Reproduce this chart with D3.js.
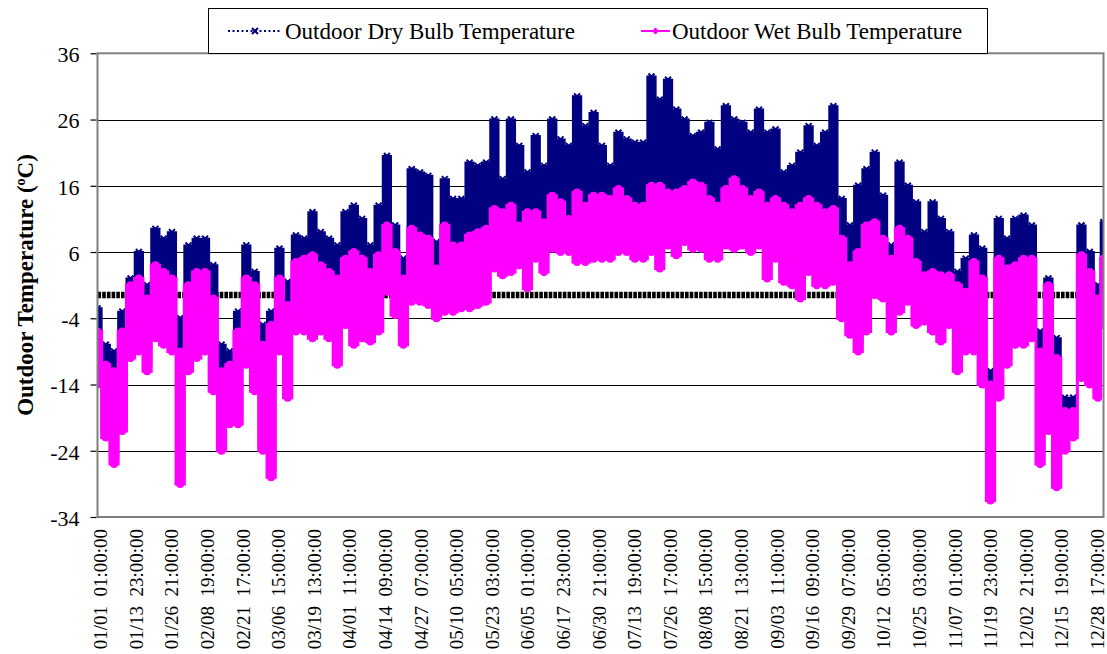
<!DOCTYPE html>
<meta charset="utf-8">
<style>
  body { margin: 0; background: #fff; }
  svg text { font-family: "Liberation Serif", "Times New Roman", serif; fill: #000; }
  .xaxis text { white-space: pre; }
</style>
<svg width="1107" height="654"></svg>
<script src="https://cdn.jsdelivr.net/npm/d3@7/dist/d3.min.js"></script>
<script>

// Envelopes, one reading every 3 days (72 h)
var dryHi = [-2.5,-8,-9,-3,2,6,1,9.5,8,9,
             -4,7,8,8,4,-8,-9,-3,7,3,
             -5,-3,6.5,1.5,8.5,8,12,9,8,7,
             12,13,11,7,13,20.5,10,5,18.5,18,
             17.5,7.5,17,14,14,19.5,19,19.5,26,17,
             26,22,18,23.5,19,26,23,22,29.5,25,
             27,22,19,24,23,22.5,22.5,32.5,29,32,
             27.5,26,23.5,24,25.5,21.5,28,26,25.5,24,
             27.5,24,24.5,18,19,21,25,22,24,28,
             14,10,16,18.5,21,14.5,7,19.5,16,13.5,
             9,13.5,11,9,3,5,8.5,6.5,-12,11,
             8,11,11.5,10,-6,2,-7,-16,-16,10,
             6,1,10.5];
var dryLo = [-13,-21,-25,-20,-9,-8,-11,-6,-7,-8,
             -28,-11,-9,-8,-14,-23,-19,-19,-10,-14,
             -23,-27,-8,-15,-5,-5,-6,-5,-6,-10,
             -4,-7,-6,-6.5,-5,1,-2.5,-7,0,0,
             -1,-3,-2,-2,-1.5,-1.5,-1,-0.5,5,4,
             4.5,5.5,2,7,5,9,8.5,8,7,7,
             7.5,7.5,7.5,8.5,8.5,7.5,7.5,8.5,6,9.5,
             8,10,9,9,7.5,7.5,9.5,9,9.5,8.5,
             9.5,4,7,3.5,3,1,5,3,3,3.5,
             -3,-5.5,-8,-5,0.5,0,-5,-2,-0.5,-4,
             -3.5,-5,-6.5,-4,-11,-8,-8,-13,-30.5,-15,
             -10,-7,-7,-6,-25,-20,-28.5,-23,-21,-12,
             -13,-15,-4];
var wetHi = [-6,-11,-12,-6,1,2,-1,4,3,2,
             -9,1,3,3,-1,-12,-11,-6,2,1,
             -8,-5,2,-2,4.5,5,5.5,4,3,2,
             5,6,5,3,5.5,10,6,2,9.5,8.5,
             8,3.5,10,7,7,8.5,9,9.5,12.5,12,
             13,10,12,12,10.5,14.5,13.5,11,15,13,
             14.5,14.5,14,15.5,14,13,13,16,16,15,
             15,15.5,16.5,16,14,13,15.5,17,15.5,14,
             15,13,14,13,12,13,14,13,12,12.5,
             8,4,6,10,10.5,8,5,9.5,8,4.5,
             2.5,3,2.5,2.5,1,0,4.5,2,-14,5,
             3.5,4,5,5,-9,1,-10,-18,-18,5.5,
             3,-1,5];
var wetLo = [-14,-22,-26,-21,-10,-9,-12,-7,-8,-9,
             -29,-12,-10,-9,-15,-24,-20,-20,-11,-15,
             -24,-28,-9,-16,-6,-6,-7,-6,-7,-11,
             -5,-8,-7,-7.5,-6,0,-3.5,-8,-1.5,-1.5,
             -2,-4,-3,-3,-2.5,-2.5,-2,-1.5,3.5,2.5,
             3,4,0.5,5,3,6.5,6,6,4.5,4.5,
             5,5,5,6,6,5,5,6,3.5,7,
             5.5,7.5,6.5,6.5,5,5,7,6.5,7,6,
             7,2,5,1.5,1,-1,3,1,1,1.5,
             -4,-6.5,-9,-6,-0.5,-1,-6,-3,-1.5,-5,
             -4.5,-6,-7.5,-5,-12,-9,-9,-14,-31.5,-16,
             -11,-8,-8,-7,-26,-21,-29.5,-24,-22,-13,
             -14,-16,-5];

// freezing reference line drawn behind the data
var refTemp = -0.5;

var yTicks = [-34, -24, -14, -4, 6, 16, 26, 36];

// category labels, one every 310 hourly records
var tickLabels = ["01/01  01:00:00","01/13  23:00:00","01/26  21:00:00","02/08  19:00:00",
  "02/21  17:00:00","03/06  15:00:00","03/19  13:00:00","04/01  11:00:00","04/14  09:00:00",
  "04/27  07:00:00","05/10  05:00:00","05/23  03:00:00","06/05  01:00:00","06/17  23:00:00",
  "06/30  21:00:00","07/13  19:00:00","07/26  17:00:00","08/08  15:00:00","08/21  13:00:00",
  "09/03  11:00:00","09/16  09:00:00","09/29  07:00:00","10/12  05:00:00","10/25  03:00:00",
  "11/07  01:00:00","11/19  23:00:00","12/02  21:00:00","12/15  19:00:00","12/28  17:00:00"];

var seriesNames = ["Outdoor Dry Bulb Temperature", "Outdoor Wet Bulb Temperature"];
var navy = "#000080", pink = "#ff00ff";

var svg = d3.select("svg"),
    plot = {left: 97.5, right: 1103.5, top: 53.3, bottom: 517};

var x = d3.scaleLinear().domain([0, 8760]).range([plot.left, plot.right]);
var y = d3.scaleLinear().domain([-34, 36]).range([plot.bottom, plot.top]);

var hours = dryHi.map(function(d, i) { return Math.min(i * 72, 8759); });
var rows = hours.map(function(h, i) {
  return {h: h, dHi: dryHi[i], dLo: dryLo[i], wHi: wetHi[i], wLo: wetLo[i]};
});

svg.append("defs").append("clipPath").attr("id", "clip")
  .append("rect")
    .attr("x", plot.left).attr("y", plot.top)
    .attr("width", plot.right - plot.left).attr("height", plot.bottom - plot.top);

//Gridlines
svg.append("g").selectAll("line")
  .data(yTicks.slice(1, -1))
  .enter().append("line")
    .attr("x1", plot.left).attr("x2", plot.right)
    .attr("y1", function(d) { return Math.round(y(d)) + 0.5; })
    .attr("y2", function(d) { return Math.round(y(d)) + 0.5; })
    .attr("stroke", "#000").attr("stroke-width", 1.2);

var g = svg.append("g").attr("clip-path", "url(#clip)");

//Freezing line (dotted band)
g.append("line")
  .attr("x1", plot.left).attr("x2", plot.right)
  .attr("y1", y(refTemp)).attr("y2", y(refTemp))
  .attr("stroke", "#000").attr("stroke-width", 6.5)
  .attr("stroke-dasharray", "3.6,1.1");

//Dry bulb
g.append("path")
  .datum(rows)
  .attr("fill", navy)
  .attr("stroke", navy).attr("stroke-width", 2)
  .attr("d", d3.area()
    .curve(d3.curveStep)
    .x(function(d) { return x(d.h); })
    .y0(function(d) { return y(d.dLo); })
    .y1(function(d) { return y(d.dHi); }));

g.append("g").selectAll("path")
  .data(rows)
  .enter().append("path")
    .attr("transform", function(d) { return "translate(" + x(d.h) + "," + y(d.dHi) + ")"; })
    .attr("d", "M-3,-3L3,3M-3,3L3,-3")
    .attr("stroke", navy).attr("stroke-width", 2).attr("fill", "none");

//Wet bulb
g.append("path")
  .datum(rows)
  .attr("fill", pink)
  .attr("stroke", pink).attr("stroke-width", 3)
  .attr("d", d3.area()
    .curve(d3.curveStep)
    .x(function(d) { return x(d.h); })
    .y0(function(d) { return y(d.wLo); })
    .y1(function(d) { return y(d.wHi); }));

var dots = [];
rows.forEach(function(d) { dots.push([d.h, d.wHi]); dots.push([d.h, d.wLo]); });
g.append("g").selectAll("circle")
  .data(dots)
  .enter().append("circle")
    .attr("cx", function(d) { return x(d[0]); })
    .attr("cy", function(d) { return y(d[1]); })
    .attr("r", 4)
    .attr("fill", pink);

//Plot border
svg.append("rect")
  .attr("x", plot.left).attr("y", plot.top)
  .attr("width", plot.right - plot.left).attr("height", plot.bottom - plot.top)
  .attr("fill", "none").attr("stroke", "#808080").attr("stroke-width", 2);

//Axes
var yAxis = svg.append("g")
  .attr("transform", "translate(" + (plot.left - 1) + ",0)")
  .call(d3.axisLeft(y).tickValues(yTicks).tickFormat(String).tickSize(6).tickPadding(11));
yAxis.select(".domain").remove();
yAxis.selectAll("line").attr("stroke", "#000").attr("stroke-width", 1.2);
yAxis.selectAll("text")
  .style("font-size", "22px")
  .attr("dy", "0.38em");

var xAxis = svg.append("g")
  .attr("class", "xaxis")
  .attr("transform", "translate(0," + plot.bottom + ")")
  .call(d3.axisBottom(x)
    .tickValues(tickLabels.map(function(d, i) { return i * 310; }))
    .tickFormat(function(d, i) { return tickLabels[i]; })
    .tickSize(0));
xAxis.select(".domain").remove();
xAxis.selectAll("text")
  .style("font-size", "19px")
  .attr("text-anchor", "end")
  .attr("transform", "rotate(-90)")
  .attr("x", -12)
  .attr("y", 2.5)
  .attr("dy", "0.35em");

//Y-axis title
var title = svg.append("text")
  .attr("transform", "translate(33,285) rotate(-90)")
  .attr("text-anchor", "middle")
  .style("font-size", "23px")
  .style("font-weight", "bold");
title.append("tspan").text("Outdoor Temperature (");
title.append("tspan").text("o").style("font-size", "14px").attr("baseline-shift", "60%");
title.append("tspan").text("C)");

//Legend
var legend = svg.append("g");
legend.append("rect")
  .attr("x", 208.5).attr("y", 8.5).attr("width", 779).attr("height", 45)
  .attr("fill", "#fff").attr("stroke", "#000").attr("stroke-width", 1);

legend.append("line")
  .attr("x1", 228).attr("x2", 282).attr("y1", 31).attr("y2", 31)
  .attr("stroke", navy).attr("stroke-width", 2).attr("stroke-dasharray", "2,2.5");
legend.append("path")
  .attr("transform", "translate(255,31)")
  .attr("d", "M-3,-3L3,3M-3,3L3,-3")
  .attr("stroke", navy).attr("stroke-width", 2);
legend.append("text")
  .attr("x", 285).attr("y", 39)
  .style("font-size", "23px")
  .text(seriesNames[0]);

legend.append("line")
  .attr("x1", 641).attr("x2", 670).attr("y1", 31).attr("y2", 31)
  .attr("stroke", pink).attr("stroke-width", 2);
legend.append("path")
  .attr("transform", "translate(655.5,31)")
  .attr("d", "M0,-3.5L3.5,0L0,3.5L-3.5,0Z")
  .attr("fill", pink);
legend.append("text")
  .attr("x", 672).attr("y", 39)
  .style("font-size", "23px")
  .text(seriesNames[1]);

</script>
